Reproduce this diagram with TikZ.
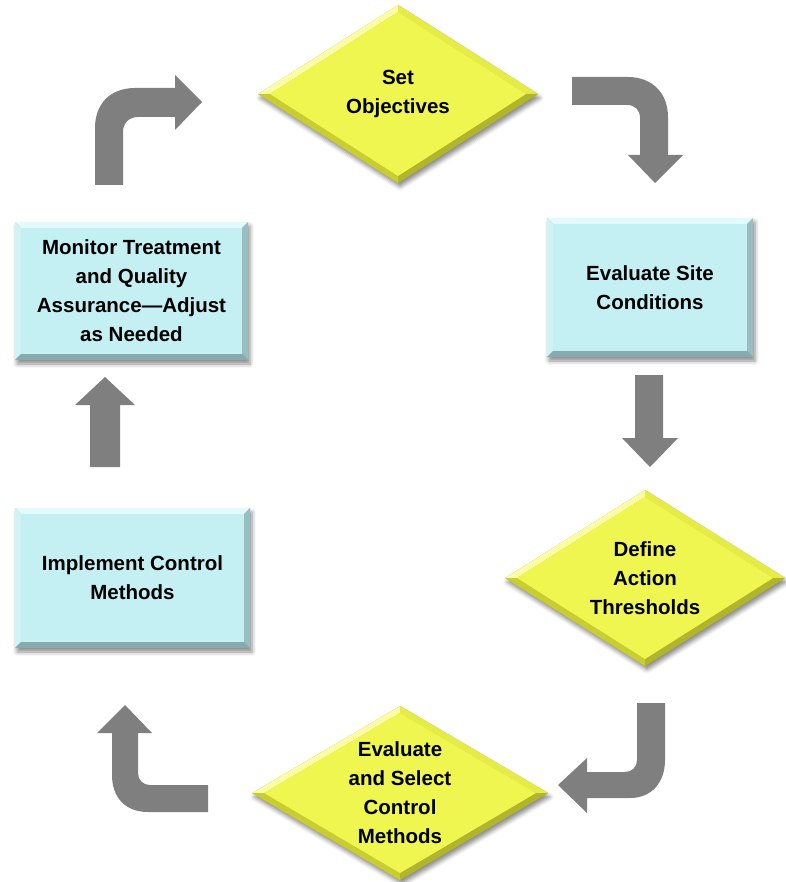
\documentclass[tikz,border=0pt]{standalone}
\usepackage{fontspec}
\setmainfont{Liberation Sans}
\usetikzlibrary{shadows.blur}

% palette
\definecolor{arrowgray}{HTML}{7F7F7F}
\definecolor{boxface}{HTML}{C4F0F3}
\definecolor{boxlight}{HTML}{E2FAFB}
\definecolor{boxmid}{HTML}{D0F4F6}
\definecolor{boxdark}{HTML}{98BEC1}
\definecolor{boxdarker}{HTML}{86AAAD}
\definecolor{dmdface}{HTML}{F0F650}
\definecolor{dmdlight}{HTML}{FAFDA6}
\definecolor{dmdmid}{HTML}{E6EC46}
\definecolor{dmddark}{HTML}{C8CE30}
\definecolor{dmddarker}{HTML}{B0B52A}

% bevelled rectangle: name, x1, y1, x2, y2, text
\newcommand\bevbox[6]{%
  \def\bv{6}%
  \path[fill=boxdarker, blur shadow={shadow xshift=2pt, shadow yshift=-4pt, shadow blur radius=4pt, shadow opacity=45}]
    (#2,#3) rectangle (#4,#5);
  \fill[boxlight] (#2,#3) -- (#4,#3) -- ({#4-\bv},{#3+\bv}) -- ({#2+\bv},{#3+\bv}) -- cycle;
  \fill[boxmid] (#2,#3) -- ({#2+\bv},{#3+\bv}) -- ({#2+\bv},{#5-\bv}) -- (#2,#5) -- cycle;
  \fill[boxdark] (#4,#3) -- (#4,#5) -- ({#4-\bv},{#5-\bv}) -- ({#4-\bv},{#3+\bv}) -- cycle;
  \fill[boxdarker] (#2,#5) -- (#4,#5) -- ({#4-\bv},{#5-\bv}) -- ({#2+\bv},{#5-\bv}) -- cycle;
  \fill[boxface] ({#2+\bv},{#3+\bv}) rectangle ({#4-\bv},{#5-\bv});
  \node[steplabel] (#1) at ({(#2+#4)/2},{(#3+#5)/2}) {#6};
}

% bevelled diamond: name, cx, cy, half width, half height, text
\newcommand\bevdiamond[6]{%
  \pgfmathsetmacro\iw{#4-12}%
  \pgfmathsetmacro\ih{#5-7}%
  \path[fill=dmddarker, blur shadow={shadow xshift=2pt, shadow yshift=-4pt, shadow blur radius=4pt, shadow opacity=45}]
    ({#2-#4},#3) -- (#2,{#3-#5}) -- ({#2+#4},#3) -- (#2,{#3+#5}) -- cycle;
  \fill[dmdlight] ({#2-#4},#3) -- (#2,{#3-#5}) -- (#2,{#3-\ih}) -- ({#2-\iw},#3) -- cycle;
  \fill[dmdmid] (#2,{#3-#5}) -- ({#2+#4},#3) -- ({#2+\iw},#3) -- (#2,{#3-\ih}) -- cycle;
  \fill[dmddarker] ({#2+#4},#3) -- (#2,{#3+#5}) -- (#2,{#3+\ih}) -- ({#2+\iw},#3) -- cycle;
  \fill[dmddark] (#2,{#3+#5}) -- ({#2-#4},#3) -- ({#2-\iw},#3) -- (#2,{#3+\ih}) -- cycle;
  \fill[dmdface] ({#2-\iw},#3) -- (#2,{#3-\ih}) -- ({#2+\iw},#3) -- (#2,{#3+\ih}) -- cycle;
  \node[steplabel] (#1) at (#2,#3) {#6};
}

\begin{document}
\begin{tikzpicture}[x=1pt, y=-1pt,
  steplabel/.style={font=\bfseries\fontsize{20.5}{29}\selectfont, align=center,
    text=black, inner sep=0pt},
  blockarrow/.style={fill=arrowgray}]
\useasboundingbox (0,0) rectangle (785,882);

% process steps
\bevdiamond{objectives}{398}{94}{140}{89}{Set\\Objectives}
\bevbox{site}{547}{218}{753}{357}{Evaluate Site\\Conditions}
\bevdiamond{thresholds}{645}{578}{140}{88}{Define\\Action\\Thresholds}
\bevdiamond{select}{400}{793}{148}{87}{Evaluate\\and Select\\Control\\Methods}
\bevbox{implement}{15}{508}{250}{648}{Implement Control\\Methods}
\bevbox{monitor}{15}{222}{248}{360}{Monitor Treatment\\and Quality\\Assurance---Adjust\\as Needed}

% block arrows between the steps
\fill[blockarrow] (95,185) -- (95,128) .. controls (95,104) and (110,88) .. (135,88)
  -- (175,88) -- (175,75) -- (202,102) -- (175,130) -- (175,117) -- (138,117)
  .. controls (129,117) and (123,123) .. (123,132) -- (123,185) -- cycle;

\fill[blockarrow] (572,77) -- (628,77) .. controls (652,77) and (668,93) .. (668,117)
  -- (668,155) -- (683,155) -- (655,183) -- (628,155) -- (640,155) -- (640,118)
  .. controls (640,110) and (635,105) .. (627,105) -- (572,105) -- cycle;

\fill[blockarrow] (635,375) -- (663,375) -- (663,438) -- (678,438) -- (650,467)
  -- (622,438) -- (635,438) -- cycle;

\fill[blockarrow] (665,703) -- (665,760) .. controls (665,782) and (652,798) .. (630,798)
  -- (587,798) -- (587,813) -- (558,785) -- (587,758) -- (587,772) -- (625,772)
  .. controls (632,772) and (637,767) .. (637,760) -- (637,703) -- cycle;

\fill[blockarrow] (208,785) -- (150,785) .. controls (143,785) and (138,780) .. (138,773)
  -- (138,733) -- (152,733) -- (125,705) -- (97,733) -- (112,733) -- (112,775)
  .. controls (112,797) and (125,812) .. (148,812) -- (208,812) -- cycle;

\fill[blockarrow] (90,467) -- (90,405) -- (75,405) -- (105,377) -- (135,405)
  -- (120,405) -- (120,467) -- cycle;
\end{tikzpicture}
\end{document}
